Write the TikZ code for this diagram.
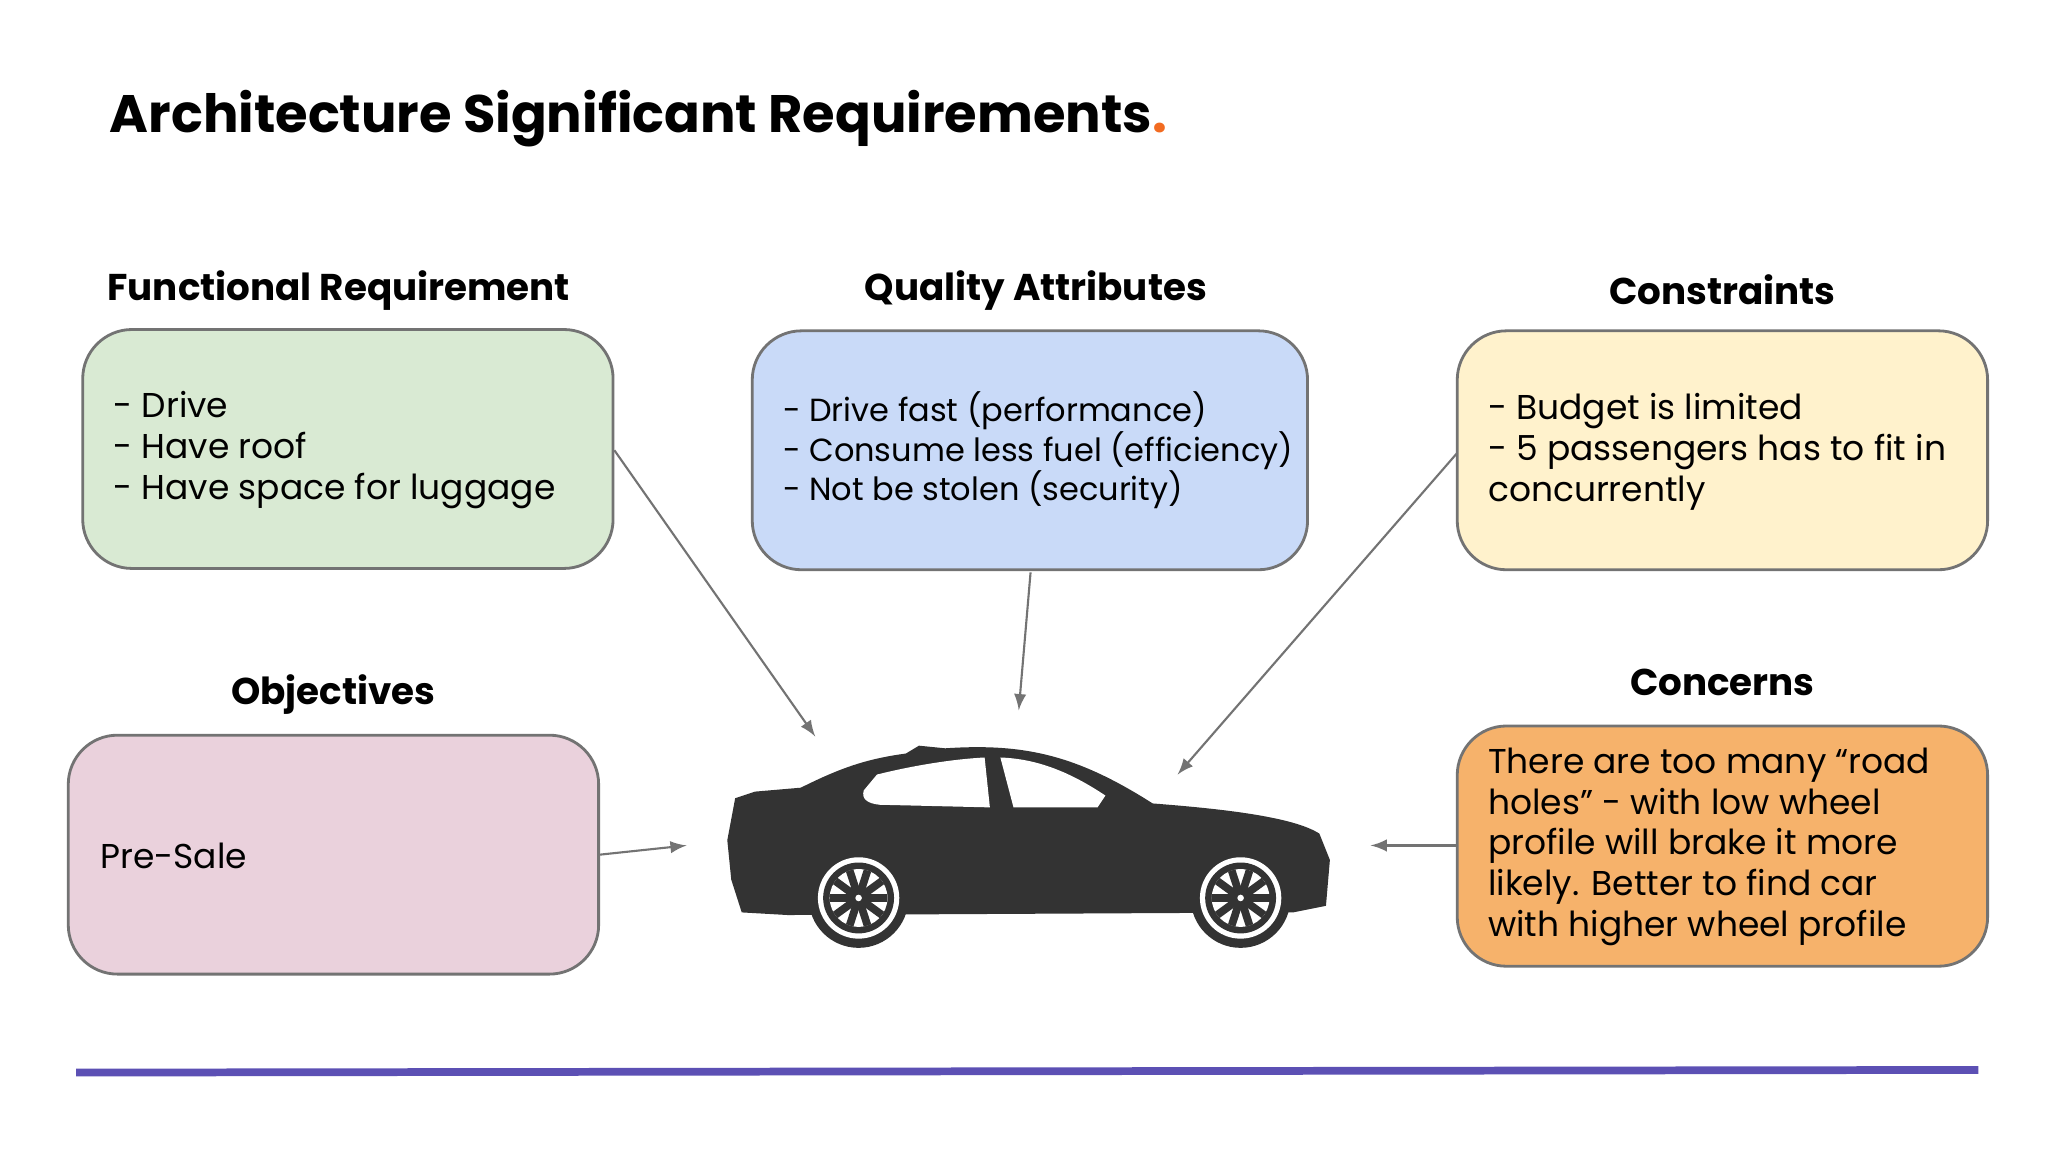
\documentclass[tikz,border=0pt]{standalone}
\usepackage{fontspec}
\setmainfont{Poppins}
\begin{document}
\begin{tikzpicture}[x=0.013128cm,y=-0.013128cm,
  head/.style={font=\fontsize{10.6}{12}\selectfont\bfseries,anchor=center},
  txt/.style={font=\fontsize{9.8}{11.6}\selectfont,align=left,anchor=west,inner sep=0pt},
  arr/.style={draw=black!55,line width=0.6pt,-latex}]
\useasboundingbox (0,0) rectangle (1560,878);
\fill[white] (0,0) rectangle (1560,878);
\definecolor{cg}{HTML}{D9EAD3}\definecolor{cb}{HTML}{C9DAF8}\definecolor{cy}{HTML}{FFF2CC}
\definecolor{cp}{HTML}{EAD1DC}\definecolor{co}{HTML}{F6B26B}\definecolor{car}{HTML}{333333}
\node[anchor=west,inner sep=0pt,font=\fontsize{15}{18}\selectfont\bfseries] (title) at (83,90) {Architecture Significant Requirements\textcolor[HTML]{F26B21}{.}};
\tikzset{rb/.style={draw=black!55,line width=0.8pt,rounded corners=14pt}}
\draw[rb,fill=cg] (63,251) rectangle (467,433);
\draw[rb,fill=cb] (573,252) rectangle (996,434);
\draw[rb,fill=cy] (1110,252) rectangle (1514,434);
\draw[rb,fill=cp] (52,560) rectangle (456,742);
\draw[rb,fill=co] (1110,553) rectangle (1514,736);
\node[head] (h1) at (258,221) {Functional Requirement};
\node[head] (h2) at (789,221) {Quality Attributes};
\node[head] (h3) at (1312,221) {Constraints};
\node[head] (h4) at (254,529) {Objectives};
\node[head] (h5) at (1312,520) {Concerns};
\node[txt] (t1) at (86,343) {- Drive\\- Have roof\\- Have space for luggage};
\node[txt,font=\fontsize{9.1}{11.2}\selectfont] (t2) at (596,343) {- Drive fast (performance)\\- Consume less fuel (efficiency)\\- Not be stolen (security)};
\node[txt] (t3) at (1133,344) {- Budget is limited\\- 5 passengers has to fit in\\concurrently};
\node[txt] (t4) at (76,652) {Pre-Sale};
\node[txt] (t5) at (1133,645) {There are too many “road\\holes” - with low wheel\\profile will brake it more\\likely. Better to find car\\with higher wheel profile};
\coordinate (a1) at (468,343); \coordinate (b1) at (621,561);
\coordinate (a2) at (785,436); \coordinate (b2) at (776,541);
\coordinate (a3) at (1110,345); \coordinate (b3) at (897,590);
\coordinate (a4) at (457,651); \coordinate (b4) at (523,644);
\coordinate (a5) at (1110,644); \coordinate (b5) at (1044,644);
\foreach \i in {1,...,5} \draw[arr] (a\i) -- (b\i);
% car
\fill[car] (565,695) -- (557,670) -- (554,640) -- (560,608) -- (575,603) -- (610,600)
  .. controls (640,585) and (660,578) .. (690,574) -- (700,568) -- (720,570)
  .. controls (780,566) and (820,575) .. (878,612)
  .. controls (930,616) and (985,622) .. (1005,635) -- (1013,655) -- (1010,690)
  -- (985,695) -- (600,697) -- cycle;
\fill[white] (658,602) -- (668,590) .. controls (700,582) and (730,578) .. (750,577) -- (754,615) -- (670,613) .. controls (660,612) and (656,608) .. (658,602) -- cycle;
\fill[white] (762,577) .. controls (790,578) and (815,588) .. (842,606) -- (836,615) -- (772,615) -- cycle;
\foreach \cx in {654,945}{
  \fill[car] (\cx,684) circle (38);
  \fill[white] (\cx,684) circle (31);
  \fill[car] (\cx,684) circle (27);
  \fill[white] (\cx,684) circle (22);
  \foreach \a in {0,36,...,324} \draw[car,line width=2.2pt] (\cx,684) -- ++(\a:22);
  \fill[car] (\cx,684) circle (7);
  \fill[white] (\cx,684) circle (2.5);
}
\draw[line width=2.2pt,draw={rgb,255:red,92;green,80;blue,180}] (58,817) coordinate (l1) -- (1507,815) coordinate (l2);
\end{tikzpicture}
\end{document}
